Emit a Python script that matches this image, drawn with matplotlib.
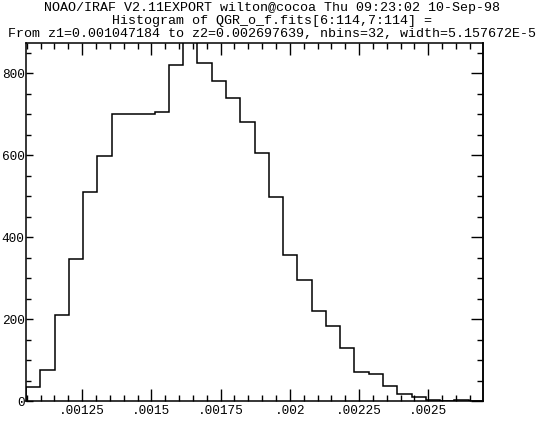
import numpy as np
import matplotlib.pyplot as plt

# histogram parameters (from the title)
z1 = 0.001047184
z2 = 0.002697639
nbins = 32
width = 5.157672e-5

# counts per bin (bin 12 runs off the top)
counts = [34, 76, 210, 346, 510, 598, 701, 701, 701, 706, 821, 900,
          826, 781, 740, 681, 605, 499, 357, 295, 220, 182, 130, 72,
          66, 37, 17, 10, 3, 0, 3, 0]

xticks = [0.00125, 0.0015, 0.00175, 0.002, 0.00225, 0.0025]
xticklabels = ['.00125', '.0015', '.00175', '.002', '.00225', '.0025']
yticks = [0, 200, 400, 600, 800]

titles = ['NOAO/IRAF V2.11EXPORT wilton@cocoa Thu 09:23:02 10-Sep-98',
          'Histogram of QGR_o_f.fits[6:114,7:114] =',
          'From z1=0.001047184 to z2=0.002697639, nbins=32, width=5.157672E-5']

edges = z1 + width * np.arange(nbins + 1)

fig = plt.figure(figsize=(5.44, 4.22), dpi=100)
ax = fig.add_axes([26 / 544, 1 - 401 / 422, 457 / 544, 358 / 422])

ax.stairs(counts, edges, color='black', linewidth=1.1)
ax.set_xlim(z1, z2)
ax.set_ylim(0, 874)

font = 'Liberation Mono'
ax.set_xticks(xticks)
ax.set_xticklabels(xticklabels, family=font, fontsize=9.2)
ax.set_xticks(np.arange(0.00105, 0.0027, 0.00005), minor=True)
ax.set_yticks(yticks)
ax.set_yticklabels([str(v) for v in yticks], family=font, fontsize=9.2)
ax.set_yticks(np.arange(0, 875, 50), minor=True)

ax.tick_params(axis='x', which='major', direction='in', top=True, length=8.6, width=1, pad=3)
ax.tick_params(axis='x', which='minor', direction='in', top=True, length=4.5, width=1)
ax.tick_params(axis='y', which='major', direction='in', length=5, width=1, pad=1)
ax.tick_params(axis='y', which='minor', direction='in', length=3.5, width=1)
for s in ax.spines.values():
    s.set_linewidth(1.1)

# right axis has longer ticks
ax2 = ax.secondary_yaxis('right')
ax2.set_yticks(yticks)
ax2.set_yticklabels([])
ax2.set_yticks(np.arange(0, 875, 50), minor=True)
ax2.tick_params(which='major', direction='in', length=8.4, width=1)
ax2.tick_params(which='minor', direction='in', length=4.3, width=1)
ax2.spines['right'].set_linewidth(1.1)

for i, t in enumerate(titles):
    fig.text(0.5, 1 - (8 + 13 * i) / 422, t, ha='center', va='center',
             family=font, fontsize=9.6)

fig.savefig('out.png', dpi=100)
